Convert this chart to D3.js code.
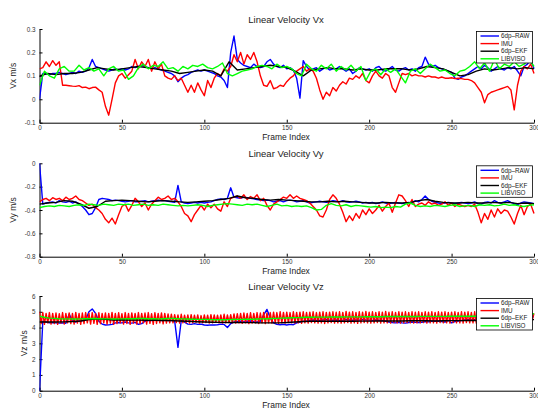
<!DOCTYPE html>
<html>
<head>
<meta charset="utf-8">
<script src="https://cdn.jsdelivr.net/npm/d3@7"></script>
<style>
  body { margin: 0; background: #fff; }
  svg { font-family: "Liberation Sans", Arial, sans-serif; }
</style>
</head>
<body>
<script>
// legend order = draw order (later ones on top)
var seriesNames = ['6dp\u2013RAW', 'IMU', '6dp\u2013EKF', 'LIBVISO']
var xTicks = [0, 50, 100, 150, 200, 250, 300]
var vxTicks = [-0.1, 0, 0.1, 0.2, 0.3]
var vyTicks = [-0.8, -0.6, -0.4, -0.2, 0]
var vzTicks = [0, 1, 2, 3, 4, 5, 6]

// each series is sampled every `step` frames (RAW 2, IMU 2 (Vz: 1), EKF 5, LIBVISO 3)
var vxRaw = [
  0.00, 0.11, 0.11, 0.105, 0.11, 0.11, 0.115, 0.11, 0.105, 0.11,
  0.115, 0.11, 0.12, 0.115, 0.12, 0.135, 0.17, 0.14, 0.135, 0.13,
  0.125, 0.12, 0.125, 0.13, 0.125, 0.13, 0.125, 0.13, 0.14, 0.135,
  0.14, 0.145, 0.14, 0.135, 0.13, 0.135, 0.13, 0.125, 0.12, 0.115,
  0.11, 0.10, 0.075, 0.09, 0.10, 0.105, 0.115, 0.12, 0.125, 0.12,
  0.125, 0.12, 0.115, 0.11, 0.10, 0.095, 0.08, 0.05, 0.20, 0.27,
  0.17, 0.155, 0.145, 0.14, 0.135, 0.15, 0.14, 0.135, 0.14, 0.16,
  0.17, 0.15, 0.14, 0.135, 0.145, 0.13, 0.135, 0.125, 0.09, 0.005,
  0.165, 0.14, 0.125, 0.13, 0.135, 0.12, 0.13, 0.135, 0.125, 0.13,
  0.13, 0.14, 0.13, 0.12, 0.13, 0.11, 0.12, 0.135, 0.13, 0.125,
  0.13, 0.12, 0.135, 0.14, 0.125, 0.12, 0.13, 0.14, 0.125, 0.12,
  0.13, 0.135, 0.125, 0.13, 0.12, 0.135, 0.14, 0.18, 0.15, 0.14,
  0.145, 0.135, 0.13, 0.125, 0.12, 0.115, 0.09, 0.085, 0.095, 0.10,
  0.11, 0.12, 0.13, 0.14, 0.13, 0.145, 0.135, 0.12, 0.13, 0.14,
  0.13, 0.125, 0.135, 0.13, 0.14, 0.12, 0.10, 0.14, 0.15, 0.17,
  0.13
]
var vxImu = [
  0.13, 0.135, 0.16, 0.14, 0.165, 0.145, 0.16, 0.06, 0.06, 0.058,
  0.056, 0.055, 0.058, 0.05, 0.052, 0.045, 0.05, 0.052, 0.04, 0.03,
  -0.03, -0.068, 0.00, 0.07, 0.10, 0.11, 0.09, 0.105, 0.12, 0.17,
  0.13, 0.16, 0.14, 0.17, 0.12, 0.16, 0.13, 0.15, 0.10, 0.09,
  0.085, 0.10, 0.08, 0.09, 0.06, 0.03, 0.06, 0.03, 0.07, 0.04,
  0.015, 0.08, 0.05, 0.09, 0.11, 0.10, 0.13, 0.12, 0.14, 0.19,
  0.16, 0.20, 0.15, 0.19, 0.17, 0.20, 0.16, 0.10, 0.06, 0.055,
  0.08, 0.045, 0.05, 0.06, 0.055, 0.075, 0.09, 0.10, 0.12, 0.13,
  0.14, 0.12, 0.13, 0.12, 0.09, 0.04, 0.00, 0.03, 0.015, 0.05,
  0.035, 0.06, 0.075, 0.065, 0.09, 0.085, 0.10, 0.09, 0.11, 0.08,
  0.07, 0.10, 0.12, 0.10, 0.09, 0.11, 0.10, 0.05, 0.03, 0.07,
  0.11, 0.105, 0.11, 0.10, 0.105, 0.10, 0.10, 0.095, 0.10, 0.095,
  0.095, 0.09, 0.095, 0.09, 0.09, 0.092, 0.088, 0.09, 0.088, 0.085,
  0.085, 0.08, 0.07, 0.05, 0.03, -0.015, 0.02, 0.03, 0.035, 0.04,
  0.045, 0.05, 0.055, 0.04, -0.045, 0.06, 0.12, 0.14, 0.13, 0.15,
  0.11
]
var vxEkf = [
  0.10, 0.11, 0.105, 0.11, 0.11, 0.115, 0.125, 0.135, 0.13, 0.125,
  0.13, 0.135, 0.14, 0.135, 0.13, 0.125, 0.12, 0.11, 0.115, 0.12,
  0.125, 0.12, 0.10, 0.16, 0.125, 0.13, 0.135, 0.14, 0.145, 0.14,
  0.135, 0.12, 0.10, 0.125, 0.13, 0.135, 0.13, 0.13, 0.125, 0.13,
  0.125, 0.125, 0.13, 0.13, 0.13, 0.125, 0.13, 0.14, 0.135, 0.13,
  0.115, 0.10, 0.105, 0.12, 0.13, 0.125, 0.13, 0.135, 0.13, 0.135,
  0.13
]
var vxLib = [
  0.06, 0.12, 0.10, 0.09, 0.13, 0.14, 0.12, 0.12, 0.145, 0.125,
  0.135, 0.12, 0.13, 0.10, 0.13, 0.14, 0.12, 0.125, 0.085, 0.10,
  0.135, 0.15, 0.13, 0.145, 0.14, 0.16, 0.13, 0.135, 0.12, 0.14,
  0.13, 0.145, 0.14, 0.15, 0.135, 0.13, 0.14, 0.155, 0.11, 0.10,
  0.11, 0.12, 0.125, 0.13, 0.14, 0.145, 0.14, 0.13, 0.15, 0.135,
  0.14, 0.13, 0.11, 0.10, 0.15, 0.13, 0.12, 0.145, 0.13, 0.15,
  0.12, 0.14, 0.125, 0.145, 0.12, 0.14, 0.08, 0.12, 0.13, 0.105,
  0.13, 0.115, 0.13, 0.10, 0.07, 0.12, 0.13, 0.11, 0.13, 0.15,
  0.135, 0.12, 0.125, 0.11, 0.10, 0.12, 0.125, 0.14, 0.16, 0.13,
  0.155, 0.12, 0.17, 0.13, 0.15, 0.14, 0.16, 0.14, 0.15, 0.17,
  0.14
]

var vyRaw = [
  0.00, -0.35, -0.34, -0.335, -0.33, -0.34, -0.32, -0.33, -0.335, -0.325,
  -0.34, -0.33, -0.35, -0.37, -0.40, -0.44, -0.43, -0.38, -0.31, -0.30,
  -0.305, -0.31, -0.32, -0.315, -0.32, -0.325, -0.33, -0.325, -0.32, -0.33,
  -0.33, -0.325, -0.32, -0.33, -0.325, -0.32, -0.315, -0.32, -0.32, -0.325,
  -0.33, -0.335, -0.19, -0.33, -0.34, -0.345, -0.34, -0.335, -0.34, -0.335,
  -0.34, -0.335, -0.33, -0.32, -0.31, -0.305, -0.31, -0.30, -0.21, -0.29,
  -0.295, -0.30, -0.29, -0.295, -0.30, -0.305, -0.31, -0.315, -0.32, -0.315,
  -0.32, -0.33, -0.325, -0.32, -0.33, -0.32, -0.315, -0.32, -0.33, -0.325,
  -0.32, -0.33, -0.34, -0.335, -0.33, -0.325, -0.33, -0.335, -0.33, -0.32,
  -0.325, -0.33, -0.32, -0.33, -0.335, -0.33, -0.325, -0.33, -0.34, -0.335,
  -0.34, -0.335, -0.345, -0.34, -0.33, -0.34, -0.345, -0.34, -0.335, -0.34,
  -0.345, -0.34, -0.335, -0.34, -0.32, -0.33, -0.31, -0.28, -0.31, -0.325,
  -0.335, -0.34, -0.345, -0.34, -0.335, -0.34, -0.345, -0.34, -0.335, -0.34,
  -0.345, -0.34, -0.33, -0.345, -0.35, -0.335, -0.33, -0.34, -0.32, -0.335,
  -0.34, -0.33, -0.32, -0.335, -0.345, -0.355, -0.34, -0.33, -0.335, -0.34,
  -0.345
]
var vyImu = [
  -0.33, -0.31, -0.30, -0.32, -0.295, -0.31, -0.30, -0.32, -0.29, -0.31,
  -0.30, -0.28, -0.31, -0.32, -0.34, -0.36, -0.35, -0.38, -0.40, -0.43,
  -0.48, -0.51, -0.47, -0.52, -0.44, -0.37, -0.35, -0.41, -0.36, -0.30,
  -0.33, -0.37, -0.34, -0.40, -0.35, -0.32, -0.29, -0.31, -0.30, -0.28,
  -0.31, -0.30, -0.33, -0.37, -0.43, -0.45, -0.50, -0.44, -0.40, -0.36,
  -0.40, -0.35, -0.38, -0.35, -0.39, -0.41, -0.33, -0.37, -0.30, -0.29,
  -0.28, -0.30, -0.27, -0.31, -0.285, -0.30, -0.27, -0.32, -0.30, -0.36,
  -0.40, -0.35, -0.33, -0.31, -0.29, -0.30, -0.27, -0.30, -0.28, -0.30,
  -0.31, -0.32, -0.34, -0.37, -0.40, -0.45, -0.46, -0.40, -0.31, -0.27,
  -0.30, -0.35, -0.42, -0.50, -0.45, -0.49, -0.43, -0.47, -0.40, -0.44,
  -0.39, -0.43, -0.40, -0.36, -0.41, -0.37, -0.34, -0.42, -0.34, -0.27,
  -0.28, -0.32, -0.37, -0.31, -0.37, -0.35, -0.34, -0.36, -0.33, -0.35,
  -0.34, -0.36, -0.35, -0.33, -0.36, -0.34, -0.37, -0.35, -0.36, -0.37,
  -0.36, -0.37, -0.35, -0.42, -0.51, -0.43, -0.48, -0.40, -0.46, -0.39,
  -0.43, -0.40, -0.41, -0.46, -0.52, -0.43, -0.36, -0.44, -0.37, -0.35,
  -0.43
]
var vyEkf = [
  -0.35, -0.34, -0.335, -0.32, -0.325, -0.35, -0.385, -0.37, -0.325, -0.32,
  -0.315, -0.32, -0.325, -0.33, -0.325, -0.32, -0.325, -0.33, -0.335, -0.33,
  -0.325, -0.32, -0.31, -0.30, -0.28, -0.295, -0.30, -0.31, -0.315, -0.31,
  -0.315, -0.32, -0.325, -0.33, -0.33, -0.325, -0.33, -0.325, -0.33, -0.335,
  -0.34, -0.34, -0.335, -0.34, -0.34, -0.335, -0.32, -0.31, -0.325, -0.335,
  -0.34, -0.34, -0.335, -0.34, -0.34, -0.335, -0.34, -0.335, -0.345, -0.34,
  -0.345
]
var vyLib = [
  -0.38, -0.37, -0.365, -0.37, -0.36, -0.365, -0.37, -0.36, -0.355, -0.36,
  -0.35, -0.355, -0.36, -0.35, -0.355, -0.36, -0.35, -0.355, -0.35, -0.36,
  -0.355, -0.35, -0.36, -0.355, -0.36, -0.35, -0.355, -0.36, -0.365, -0.36,
  -0.365, -0.36, -0.355, -0.36, -0.37, -0.36, -0.355, -0.35, -0.345, -0.35,
  -0.355, -0.36, -0.35, -0.355, -0.35, -0.36, -0.37, -0.36, -0.35, -0.365,
  -0.36, -0.37, -0.365, -0.37, -0.365, -0.38, -0.40, -0.395, -0.36, -0.345,
  -0.36, -0.365, -0.355, -0.37, -0.36, -0.365, -0.37, -0.375, -0.37, -0.38,
  -0.375, -0.38, -0.37, -0.375, -0.35, -0.34, -0.36, -0.37, -0.365, -0.37,
  -0.36, -0.365, -0.37, -0.36, -0.355, -0.37, -0.365, -0.36, -0.37, -0.355,
  -0.36, -0.355, -0.365, -0.36, -0.35, -0.36, -0.355, -0.365, -0.37, -0.36,
  -0.355
]

var vzRaw = [
  0.00, 4.4, 4.35, 4.3, 4.32, 4.3, 4.28, 4.3, 4.27, 4.85,
  4.4, 4.35, 4.42, 4.45, 4.48, 5.0, 5.18, 4.9, 4.4, 4.22,
  4.16, 4.17, 4.2, 4.3, 4.32, 4.3, 4.35, 4.3, 4.28, 4.33,
  4.2, 4.25, 4.4, 4.45, 4.45, 4.48, 4.46, 4.45, 4.47, 4.44,
  4.45, 4.42, 2.75, 4.45, 4.35, 4.22, 4.2, 4.25, 4.2, 4.22,
  4.16, 4.15, 4.17, 4.16, 4.18, 4.22, 4.2, 4.0, 4.25, 4.35,
  4.38, 4.4, 4.35, 4.4, 4.42, 4.38, 4.35, 4.4, 4.8, 5.15,
  4.6, 4.3, 4.2, 4.18, 4.2, 4.16, 4.2, 4.18, 4.3, 4.35,
  4.4, 4.42, 4.45, 4.48, 4.46, 4.45, 4.48, 4.5, 4.47, 4.46,
  4.48, 4.45, 4.47, 4.5, 4.48, 4.46, 4.48, 4.47, 4.5, 4.48,
  4.47, 4.45, 4.48, 4.46, 4.45, 4.4, 4.35, 4.32, 4.3, 4.34,
  4.3, 4.28, 4.32, 4.35, 4.33, 4.32, 4.34, 4.38, 4.36, 4.4,
  4.42, 4.4, 4.38, 4.35, 4.45, 4.3, 4.38, 4.42, 4.45, 4.48,
  4.5, 4.48, 4.5, 4.52, 4.5, 4.48, 4.5, 4.52, 4.5, 4.52,
  4.5, 4.53, 4.52, 4.5, 4.54, 4.52, 4.55, 4.58, 4.62, 4.65,
  4.7
]
var vzImu = [
  5.0, 4.25, 4.95, 4.2, 4.9, 4.3, 4.95, 4.22, 4.9, 4.25, 4.92, 4.2, 4.88, 4.28, 4.95, 4.22, 4.9, 4.3, 4.93, 4.25,
  4.9, 4.22, 4.96, 4.28, 4.9, 4.2, 4.92, 4.25, 4.95, 4.3, 4.9, 4.22, 4.95, 4.27, 4.88, 4.2, 4.94, 4.25, 4.9, 4.3,
  4.93, 4.22, 4.9, 4.28, 4.96, 4.2, 4.9, 4.25, 4.94, 4.3, 4.88, 4.22, 4.95, 4.26, 4.9, 4.2, 4.93, 4.28, 4.9, 4.22,
  4.95, 4.25, 4.9, 4.3, 4.92, 4.22, 4.95, 4.27, 4.88, 4.2, 4.94, 4.26, 4.9, 4.3, 4.93, 4.24, 4.9, 4.28, 4.86, 4.3,
  4.85, 4.3, 4.82, 4.32, 4.8, 4.28, 4.84, 4.3, 4.78, 4.32, 4.8, 4.28, 4.82, 4.3, 4.78, 4.33, 4.8, 4.28, 4.76, 4.3,
  4.8, 4.32, 4.78, 4.28, 4.82, 4.3, 4.8, 4.33, 4.78, 4.3, 4.8, 4.28, 4.84, 4.3, 4.8, 4.32, 4.82, 4.3, 4.86, 4.28,
  4.88, 4.3, 4.9, 4.27, 4.92, 4.3, 4.9, 4.25, 4.94, 4.28, 4.9, 4.3, 4.95, 4.26, 4.92, 4.3, 4.96, 4.25, 4.93, 4.3,
  4.95, 4.28, 4.98, 4.3, 4.95, 4.26, 5.0, 4.3, 4.96, 4.28, 4.98, 4.32, 4.95, 4.3, 5.0, 4.28, 4.96, 4.3, 4.98, 4.27,
  5.0, 4.3, 4.96, 4.28, 4.98, 4.32, 5.0, 4.3, 4.95, 4.28, 4.98, 4.3, 5.0, 4.26, 4.96, 4.3, 4.98, 4.32, 5.0, 4.28,
  4.97, 4.3, 5.0, 4.28, 4.96, 4.3, 5.02, 4.32, 4.98, 4.28, 5.0, 4.3, 4.96, 4.27, 5.0, 4.3, 4.98, 4.32, 5.02, 4.3,
  4.98, 4.28, 5.0, 4.3, 4.96, 4.32, 5.0, 4.28, 4.98, 4.3, 5.02, 4.3, 4.97, 4.28, 5.0, 4.32, 4.96, 4.3, 5.0, 4.28,
  4.98, 4.3, 5.0, 4.32, 4.96, 4.3, 5.0, 4.28, 4.98, 4.3, 5.0, 4.3, 4.96, 4.32, 5.0, 4.28, 4.98, 4.3, 5.0, 4.3,
  4.96, 4.28, 5.0, 4.32, 4.98, 4.3, 5.0, 4.3, 4.96, 4.28, 4.98, 4.32, 5.0, 4.3, 4.96, 4.3, 5.0, 4.28, 4.98, 4.32,
  5.0, 4.3, 4.96, 4.3, 5.0, 4.28, 4.98, 4.32, 5.0, 4.3, 4.97, 4.3, 5.0, 4.28, 4.98, 4.32, 5.0, 4.3, 4.96, 4.3,
  5.0, 4.28, 4.98, 4.32, 5.0, 4.3, 4.97, 4.3, 5.02, 4.28, 4.98, 4.32, 5.0, 4.3, 5.05, 4.35, 5.1, 4.4, 5.1, 4.5,
  4.9
]
var vzEkf = [
  4.35, 4.35, 4.35, 4.36, 4.38, 4.42, 4.5, 4.55, 4.52, 4.48,
  4.48, 4.47, 4.47, 4.46, 4.46, 4.45, 4.44, 4.42, 4.4, 4.37,
  4.35, 4.34, 4.33, 4.32, 4.32, 4.31, 4.31, 4.3, 4.3, 4.3,
  4.32, 4.35, 4.38, 4.4, 4.4, 4.4, 4.41, 4.4, 4.4, 4.41,
  4.41, 4.42, 4.42, 4.42, 4.42, 4.43, 4.43, 4.43, 4.42, 4.43,
  4.44, 4.44, 4.45, 4.45, 4.46, 4.47, 4.47, 4.48, 4.48, 4.49,
  4.5
]
var vzLib = [
  4.72, 4.65, 4.6, 4.58, 4.56, 4.55, 4.55, 4.54, 4.55, 4.56,
  4.56, 4.57, 4.56, 4.55, 4.55, 4.54, 4.55, 4.55, 4.56, 4.56,
  4.57, 4.57, 4.56, 4.56, 4.55, 4.56, 4.57, 4.57, 4.56, 4.55,
  4.54, 4.53, 4.52, 4.52, 4.51, 4.5, 4.5, 4.5, 4.5, 4.51,
  4.52, 4.52, 4.53, 4.53, 4.54, 4.55, 4.56, 4.57, 4.58, 4.6,
  4.61, 4.62, 4.63, 4.64, 4.65, 4.65, 4.66, 4.66, 4.66, 4.67,
  4.67, 4.67, 4.68, 4.68, 4.68, 4.68, 4.69, 4.69, 4.69, 4.69,
  4.7, 4.7, 4.7, 4.7, 4.7, 4.7, 4.7, 4.71, 4.71, 4.71,
  4.71, 4.71, 4.71, 4.72, 4.72, 4.72, 4.72, 4.72, 4.72, 4.72,
  4.72, 4.72, 4.73, 4.73, 4.73, 4.73, 4.74, 4.74, 4.78, 4.86,
  4.88
]

var colors = ['#0000ff', '#ff0000', '#000000', '#00ff00']
var width = 538, height = 409
var plotLeft = 39.5, plotRight = 534

var svg = d3.select('body').append('svg')
  .attr('width', width)
  .attr('height', height)

var x = d3.scaleLinear().domain([0, 300]).range([plotLeft, plotRight])

var panels = [
  { name: 'Vx', top: 29, bottom: 122.7, domain: [-0.1, 0.3], ticks: vxTicks, labelX: 16,
    lines: [[vxRaw, 2], [vxImu, 2], [vxEkf, 5], [vxLib, 3]] },
  { name: 'Vy', top: 163.3, bottom: 256.7, domain: [-0.8, 0], ticks: vyTicks, labelX: 16,
    lines: [[vyRaw, 2], [vyImu, 2], [vyEkf, 5], [vyLib, 3]] },
  { name: 'Vz', top: 296, bottom: 390.7, domain: [0, 6], ticks: vzTicks, labelX: 27,
    lines: [[vzRaw, 2], [vzImu, 1], [vzEkf, 5], [vzLib, 3]] }
]

panels.forEach(function (p, n) {
  var y = d3.scaleLinear().domain(p.domain).range([p.bottom, p.top])
  var g = svg.append('g')

  svg.append('clipPath').attr('id', 'clip' + n)
    .append('rect')
    .attr('x', plotLeft).attr('y', p.top - 1)
    .attr('width', plotRight - plotLeft + 1).attr('height', p.bottom - p.top + 2)

  // axes first, data drawn over them
  var ya = g.append('g')
    .attr('transform', 'translate(' + plotLeft + ',0)')
    .call(d3.axisLeft(y).tickValues(p.ticks).tickSize(-3).tickSizeOuter(0).tickPadding(4).tickFormat(String))
  var xa = g.append('g')
    .attr('transform', 'translate(0,' + p.bottom + ')')
    .call(d3.axisBottom(x).tickValues(xTicks).tickSize(-3).tickSizeOuter(0).tickPadding(3).tickFormat(String))
  ;[ya, xa].forEach(function (a) {
    a.selectAll('text').attr('font-size', 6.3).attr('fill', '#333').attr('font-family', null)
    a.select('.domain').attr('stroke', '#000').attr('stroke-width', 1)
    a.selectAll('.tick line').attr('stroke', '#000')
  })

  p.lines.forEach(function (s, k) {
    var line = d3.line()
      .x(function (d, i) { return x(i * s[1]) })
      .y(function (d) { return y(d) })
    g.append('path')
      .datum(s[0])
      .attr('clip-path', 'url(#clip' + n + ')')
      .attr('d', line)
      .attr('fill', 'none')
      .attr('stroke', colors[k])
      .attr('stroke-width', 1.4)
      .attr('stroke-linejoin', 'round')
  })

  g.append('text')
    .attr('x', 286).attr('y', p.top - 6)
    .attr('text-anchor', 'middle').attr('font-size', 9.5).attr('fill', '#222')
    .text('Linear Velocity ' + p.name)
  g.append('text')
    .attr('x', 286).attr('y', p.bottom + 17)
    .attr('text-anchor', 'middle').attr('font-size', 8.5).attr('fill', '#222')
    .text('Frame Index')
  g.append('text')
    .attr('transform', 'translate(' + p.labelX + ',' + (p.top + p.bottom) / 2 + ') rotate(-90)')
    .attr('text-anchor', 'middle').attr('font-size', 8.5).attr('fill', '#222')
    .text(p.name + ' m/s')

  // legend
  var lg = g.append('g').attr('transform', 'translate(476.5,' + (p.top + 2.5) + ')')
  lg.append('rect')
    .attr('width', 56).attr('height', 31.5)
    .attr('fill', '#fff').attr('stroke', '#000').attr('stroke-width', 0.8)
  seriesNames.forEach(function (name, k) {
    var yy = 4.5 + k * 7.6
    lg.append('line')
      .attr('x1', 4).attr('x2', 22.5).attr('y1', yy).attr('y2', yy)
      .attr('stroke', colors[k]).attr('stroke-width', 1.4)
    lg.append('text')
      .attr('x', 24.5).attr('y', yy).attr('dy', '0.35em')
      .attr('font-size', 6.3).attr('fill', '#222')
      .text(name)
  })
})
</script>
</body>
</html>
